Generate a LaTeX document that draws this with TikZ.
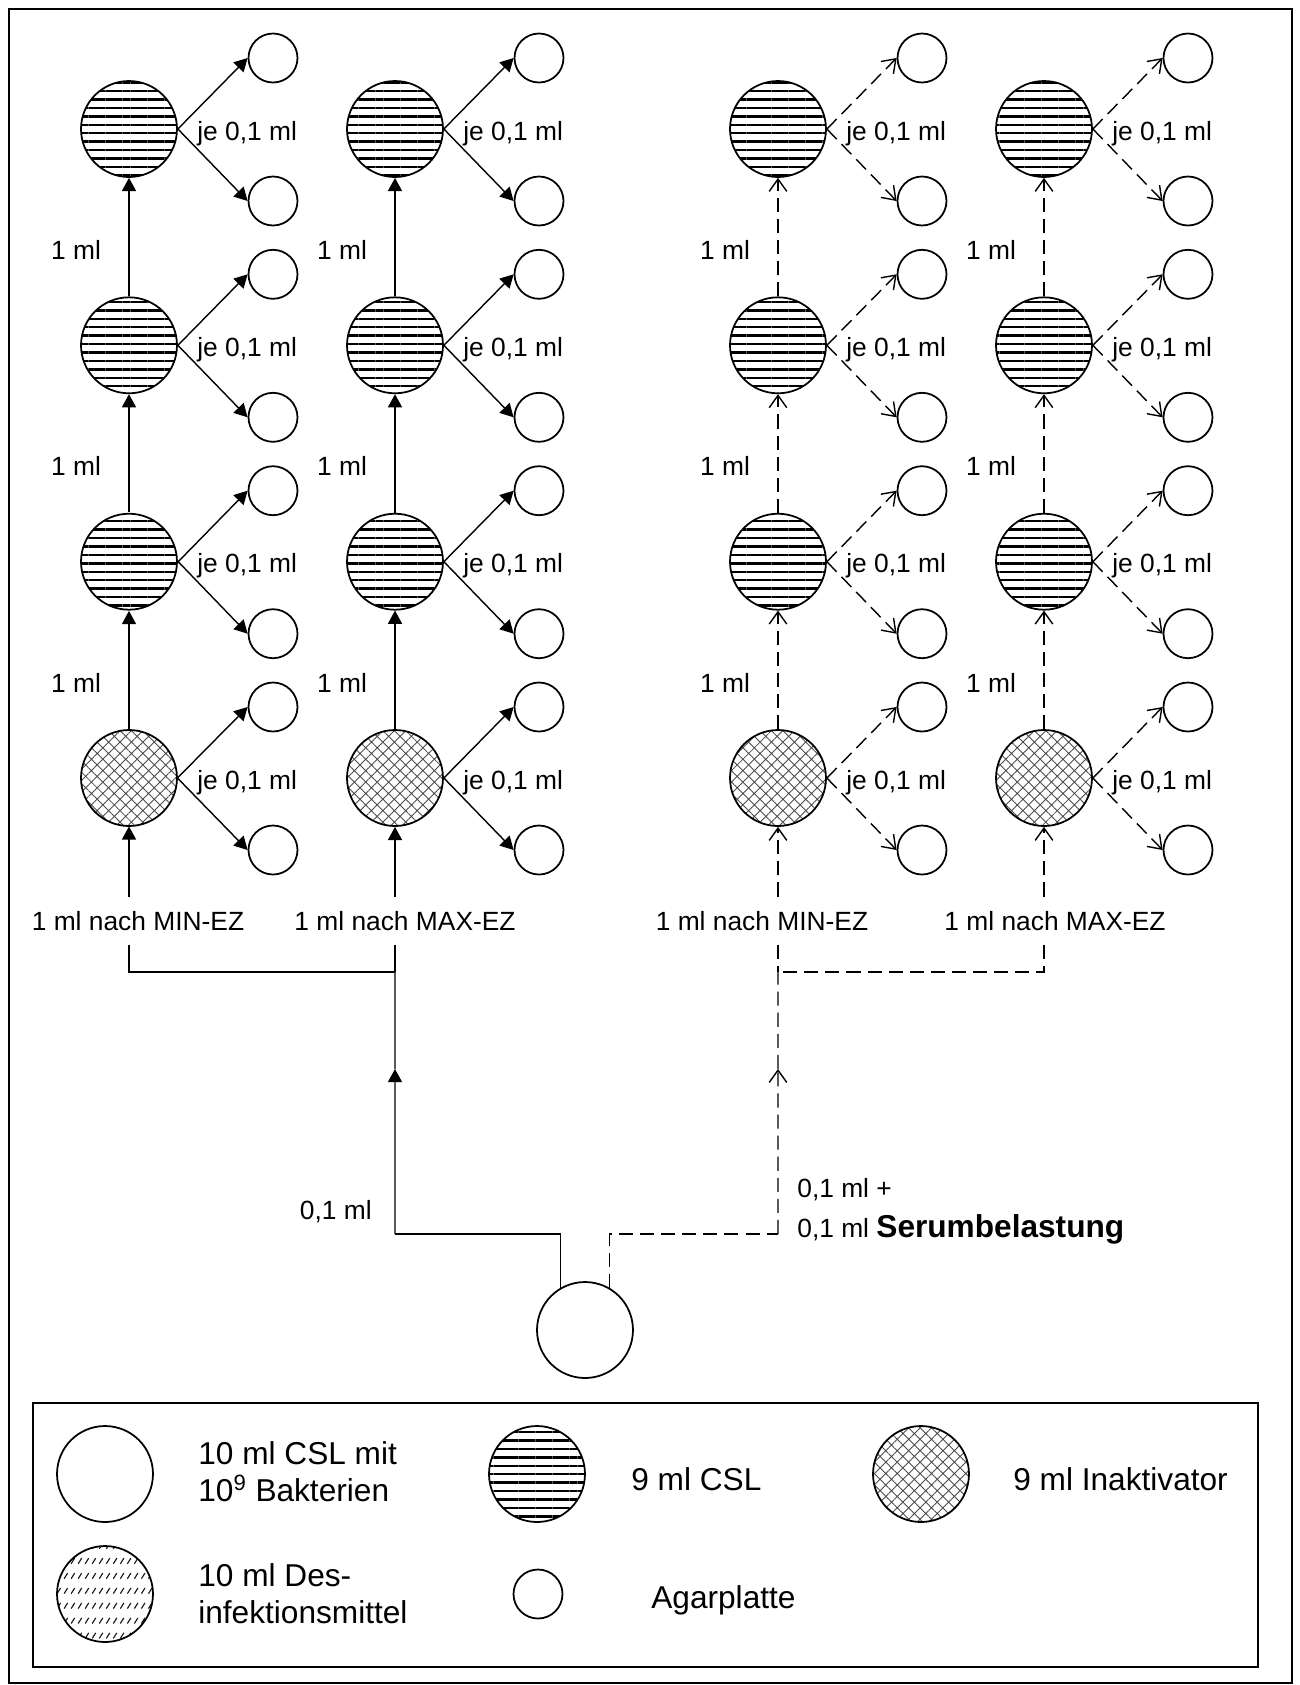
\documentclass[tikz,border=0pt]{standalone}
\usepackage{fontspec}
\setmainfont{Liberation Sans}
\usetikzlibrary{arrows.meta, patterns, patterns.meta, calc}

% hatch for the disinfectant flask
\pgfdeclarepatternformonly{desstrokes}{\pgfqpoint{-1pt}{-1pt}}{\pgfqpoint{5pt}{9.5pt}}{\pgfqpoint{4pt}{8.5pt}}{%
  \pgfsetlinewidth{0.65pt}%
  \pgfpathmoveto{\pgfqpoint{0.5pt}{1pt}}%
  \pgfpathlineto{\pgfqpoint{2.5pt}{4.2pt}}%
  \pgfusepath{stroke}}

\tikzset{
  vessel/.style={circle, draw, line width=1pt, minimum size=1.92cm, inner sep=0pt},
  csl/.style={vessel, pattern={Lines[angle=0, distance=4.8pt, line width=1.4pt]}},
  inakt/.style={vessel, pattern={Hatch[angle=45, distance=4.6pt, line width=0.5pt]}, pattern color=black!70},
  desinf/.style={vessel, pattern=desstrokes, pattern color=black!90},
  plate/.style={circle, draw, line width=1pt, minimum size=0.98cm, inner sep=0pt},
  txt/.style={inner sep=0pt, font=\fontsize{15}{18}\selectfont},
  legtxt/.style={inner sep=0pt, align=left, font=\fontsize{18}{21}\selectfont},
  pipe/.style={line width=0.8pt},
  serumpipe/.style={pipe, dash pattern=on 8pt off 4pt},
  flow/.style={pipe, -{Triangle[length=7.5pt, width=8pt]}},
  serum/.style={serumpipe, -{Straight Barb[length=7pt, width=10pt]}},
}

\begin{document}
\begin{tikzpicture}[x=0.02cm, y=-0.02cm]
  \useasboundingbox (0,0) rectangle (1300,1685);
  \draw[line width=1pt] (9,9) rectangle (1292,1683);

  % -- Dilution rows: 9 ml Inaktivator at the bottom, 9 ml CSL above --
  \foreach \c/\x in {1/129, 2/395, 3/778, 4/1044} {
    \node[inakt] (b\c1) at (\x, 778) {};
    \foreach \r/\y in {2/561.7, 3/345.3, 4/129}
      \node[csl] (b\c\r) at (\x, \y) {};
    \foreach \r/\y in {1/778, 2/561.7, 3/345.3, 4/129} {
      \node[plate] (pa\c\r) at (\x+144, \y-71) {};
      \node[plate] (pb\c\r) at (\x+144, \y+72) {};
      \node[txt, anchor=base west] (je\c\r) at (\x+68, \y+11) {je 0,1 ml};
    }
    \foreach \r/\y in {1/692, 2/475.5, 3/259}
      \node[txt, anchor=base] (ml\c\r) at (\x-53, \y) {1 ml};
  }

  % -- Without serum (solid) --
  \foreach \c in {1,2} {
    \foreach \r in {1,...,4} {
      \draw[flow] (b\c\r.east) -- (pa\c\r.west);
      \draw[flow] (b\c\r.east) -- (pb\c\r.west);
    }
    \foreach \r/\s in {1/2, 2/3, 3/4}
      \draw[flow] (b\c\r) -- (b\c\s);
  }

  % -- With serum load (dashed) --
  \foreach \c in {3,4} {
    \foreach \r in {1,...,4} {
      \draw[serum] (b\c\r.east) -- (pa\c\r.west);
      \draw[serum] (b\c\r.east) -- (pb\c\r.west);
    }
    \foreach \r/\s in {1/2, 2/3, 3/4}
      \draw[serum] (b\c\r) -- (b\c\s);
  }

  % -- Exposure times --
  \node[txt, inner ysep=8pt, anchor=base] (minL) at (138,930) {1 ml nach MIN-EZ};
  \node[txt, inner ysep=8pt, anchor=base] (maxL) at (405,930) {1 ml nach MAX-EZ};
  \node[txt, inner ysep=8pt, anchor=base] (minR) at (762,930) {1 ml nach MIN-EZ};
  \node[txt, inner ysep=8pt, anchor=base] (maxR) at (1055,930) {1 ml nach MAX-EZ};

  \draw[flow] (minL.north -| b11) -- (b11);
  \draw[flow] (maxL.north -| b21) -- (b21);
  \draw[serum] (minR.north -| b31) -- (b31);
  \draw[serum] (maxR.north -| b41) -- (b41);

  % -- Bacteria suspension --
  \node[vessel] (src) at (585,1330) {};
  \coordinate (jl) at (395,972);
  \coordinate (kl) at (395,1234);
  \coordinate (jr) at (778,972);
  \coordinate (kr) at (778,1234);
  \coordinate (tipl) at ($(kl)!0.63!(jl)$);
  \coordinate (tipr) at ($(kr)!0.63!(jr)$);

  \draw[pipe] (minL.south -| b11) |- (jl);
  \draw[pipe] (maxL.south -| b21) -- (jl);
  \draw[pipe] (src.120) |- (kl);
  \draw[flow] (kl) -- (tipl);
  \draw[pipe] (tipl) -- (jl);

  \draw[serumpipe] (minR.south -| b31) -- (jr);
  \draw[serumpipe] (maxR.south -| b41) |- (jr);
  \draw[serumpipe] (src.60) |- (kr);
  \draw[serum] (kr) -- (tipr);
  \draw[serumpipe] (tipr) -- (jr);

  \node[txt, anchor=east] (dose) at (372,1212) {0,1 ml};
  \node[txt, anchor=base west] (doseA) at (797,1197) {0,1 ml +};
  \node[txt, anchor=base west] (doseB) at (797,1237) {0,1 ml {\fontsize{18}{21}\selectfont\bfseries Serumbelastung}};

  % -- Legend --
  \draw[line width=1pt] (33,1403) rectangle (1258,1667);
  \node[vessel] (lgsrc) at (105,1474) {};
  \node[legtxt, anchor=west] (lgsrctxt) at (198,1472) {10 ml CSL mit\\10\textsuperscript{9} Bakterien};
  \node[csl] (lgcsl) at (537,1474) {};
  \node[legtxt, anchor=base west] (lgcsltxt) at (631,1490) {9 ml CSL};
  \node[inakt] (lginakt) at (921,1474) {};
  \node[legtxt, anchor=base west] (lginakttxt) at (1013,1490) {9 ml Inaktivator};
  \node[desinf] (lgdes) at (105,1594) {};
  \node[legtxt, anchor=west] (lgdestxt) at (198,1594) {10 ml Des-\\infektionsmittel};
  \node[plate] (lgplate) at (538,1594) {};
  \node[legtxt, anchor=base west] (lgplatetxt) at (651,1608) {Agarplatte};
\end{tikzpicture}
\end{document}
